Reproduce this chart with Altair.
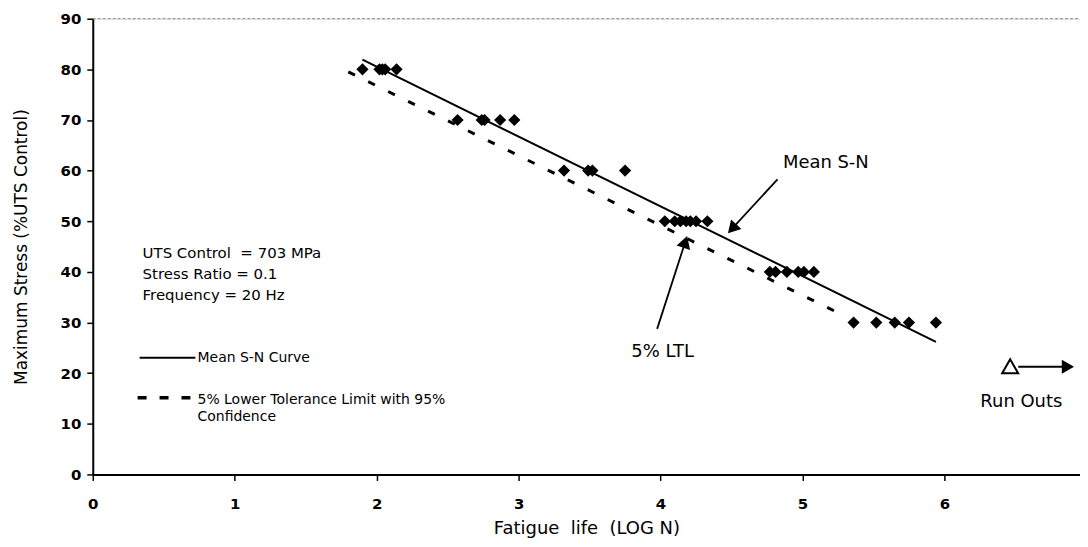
import altair as alt
import pandas as pd

# ---------------- data ----------------
stress_levels = [80, 70, 60, 50, 40, 30]
log_n_80 = [1.90, 2.02, 2.04, 2.06, 2.14]
log_n_70 = [2.57, 2.74, 2.76, 2.87, 2.97]
log_n_60 = [3.32, 3.49, 3.52, 3.75]
log_n_50 = [4.03, 4.10, 4.14, 4.18, 4.21, 4.25, 4.33]
log_n_40 = [4.77, 4.81, 4.89, 4.97, 5.01, 5.08]
log_n_30 = [5.36, 5.52, 5.65, 5.75, 5.94]
log_n_by_level = [log_n_80, log_n_70, log_n_60, log_n_50, log_n_40, log_n_30]

mean_sn_log_n = [1.90, 5.94]
mean_sn_stress = [81.9, 26.2]
ltl_log_n = [1.80, 5.31]
ltl_stress = [79.5, 31.1]

x_ticks = [0, 1, 2, 3, 4, 5, 6]
y_ticks = [0, 10, 20, 30, 40, 50, 60, 70, 80, 90]

info_lines = ["UTS Control\u00a0 = 703 MPa", "Stress Ratio = 0.1", "Frequency = 20 Hz"]
legend_mean = "Mean S-N Curve"
legend_ltl = ["5% Lower Tolerance Limit with 95%", "Confidence"]

# ---------------- tables ----------------
pts = pd.DataFrame(
    [{"x": v, "y": lvl} for lvl, vals in zip(stress_levels, log_n_by_level) for v in vals]
)
mean_df = pd.DataFrame({"x": mean_sn_log_n, "y": mean_sn_stress})
ltl_df = pd.DataFrame({"x": ltl_log_n, "y": ltl_stress})

FONT = "DejaVu Sans"
X_MAX = 6.955

xs = alt.Scale(domain=[0, X_MAX], nice=False, zero=False)
ys = alt.Scale(domain=[0, 90], nice=False)
xaxis = alt.Axis(
    values=x_ticks, format="d", grid=False, title="Fatigue\u00a0 life\u00a0 (LOG N)",
    domainColor="black", domainWidth=2, tickColor="black", tickWidth=1.5, tickSize=6,
    labelFont=FONT, labelFontSize=15, labelFontWeight="bold", labelColor="black",
    labelPadding=16, labelFlush=False,
    titleFont=FONT, titleFontSize=18, titleFontWeight="normal", titleColor="black",
    titleY=54, titleBaseline="middle",
)
yaxis = alt.Axis(
    values=y_ticks, format="d", grid=False, title="Maximum Stress (%UTS Control)",
    domainColor="black", domainWidth=2, tickColor="black", tickWidth=1.5, tickSize=6,
    labelFont=FONT, labelFontSize=15, labelFontWeight="bold", labelColor="black",
    labelPadding=6, labelFlush=False,
    titleFont=FONT, titleFontSize=17, titleFontWeight="normal", titleColor="black",
    titleX=-71, titleY=228.5, titleAngle=270, titleBaseline="middle", titleAlign="center",
)
X = alt.X("x:Q", scale=xs, axis=xaxis)
Y = alt.Y("y:Q", scale=ys, axis=yaxis)

base_top = alt.Chart(pd.DataFrame({"x": [0.0], "x2": [X_MAX], "y": [90]})).mark_rule(
    color="#888888", strokeWidth=1, strokeDash=[3, 2]
).encode(x=X, x2="x2:Q", y=Y)

points = alt.Chart(pts).mark_point(
    shape="diamond", filled=True, size=150, color="black", opacity=1
).encode(x=X, y=Y)

mean_line = alt.Chart(mean_df).mark_line(color="black", strokeWidth=2).encode(x=X, y=Y)
ltl_line = alt.Chart(ltl_df).mark_line(
    color="black", strokeWidth=3, strokeDash=[7.5, 14.8]
).encode(x=X, y=Y)


def text_layer(df, size, weight="normal"):
    return alt.Chart(df).mark_text(
        align="left", baseline="middle", font=FONT, fontSize=size,
        fontWeight=weight, color="black"
    ).encode(x=X, y=Y, text="label:N")


info_txt = text_layer(pd.DataFrame({"x": [0.351] * 3, "y": [43.72, 39.59, 35.45], "label": info_lines}), 15)
leg_mean_txt = text_layer(pd.DataFrame({"x": [0.738], "y": [23.04], "label": [legend_mean]}), 14)
leg_ltl_txt = text_layer(pd.DataFrame({"x": [0.738, 0.738], "y": [14.77, 11.42], "label": legend_ltl}), 14)
ann_txt = text_layer(pd.DataFrame({
    "x": [4.862, 3.794, 6.253], "y": [61.44, 24.22, 14.38],
    "label": ["Mean S-N", "5% LTL", "Run Outs"]}), 18)

leg_mean_line = alt.Chart(pd.DataFrame({"x": [0.330, 0.723], "y": [23.04, 23.04]})).mark_line(
    color="black", strokeWidth=2).encode(x=X, y=Y)
leg_ltl_line = alt.Chart(pd.DataFrame({"x": [0.316, 0.688], "y": [15.16, 15.16]})).mark_line(
    color="black", strokeWidth=3.5, strokeDash=[9, 13]).encode(x=X, y=Y)

shafts = alt.Chart(pd.DataFrame({
    "x": [4.824, 3.976, 6.52], "y": [58.29, 28.75, 21.27],
    "x2": [4.504, 4.174, 6.87], "y2": [48.54, 45.92, 21.27]})).mark_rule(
    color="black", strokeWidth=1.8).encode(x=X, y=Y, x2="x2:Q", y2="y2:Q")

heads = alt.Chart(pd.DataFrame({
    "x": [4.504, 4.174, 6.870], "y": [48.54, 45.92, 21.27], "angle": [222.8, 17.9, 90]})).mark_point(
    shape="triangle-up", filled=True, size=200, color="black", opacity=1).encode(
    x=X, y=Y, angle=alt.Angle("angle:Q", scale=None))

runout = alt.Chart(pd.DataFrame({"x": [6.463], "y": [21.37]})).mark_point(
    shape="triangle-up", filled=False, size=256, strokeWidth=2, color="black", opacity=1
).encode(x=X, y=Y)

chart = alt.layer(
    base_top, ltl_line, mean_line, points, leg_mean_line, leg_ltl_line,
    shafts, heads, runout, info_txt, leg_mean_txt, leg_ltl_txt, ann_txt
).properties(
    width=990, height=457,
    autosize=alt.AutoSizeParams(type="none"),
    padding={"left": 85, "top": 10, "right": 0, "bottom": 64},
).configure_view(strokeWidth=0).configure(background="white")

chart.save("out.html", embed_options={"renderer": "svg", "actions": False})
